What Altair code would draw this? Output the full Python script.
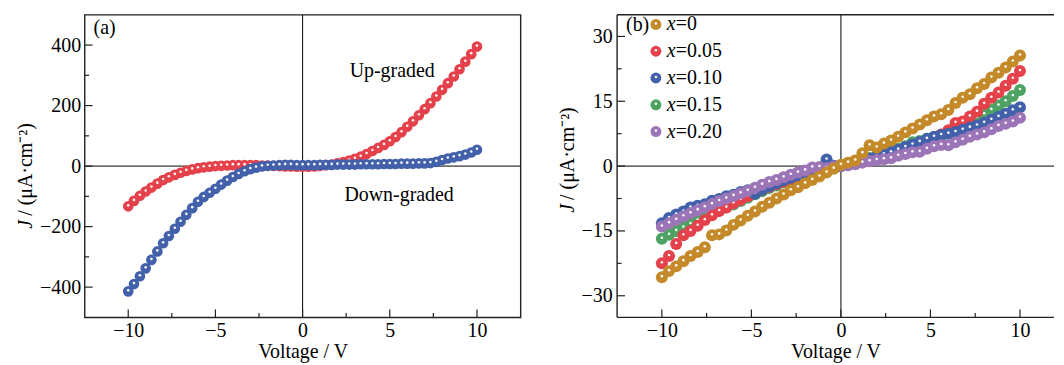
import altair as alt
import pandas as pd

FONT = "Liberation Serif"
AXC = "#222222"

# ---------------- Panel (a) data ----------------
V_A = [-10.0, -9.67, -9.33, -9.0, -8.67, -8.33, -8.0, -7.67, -7.33, -7.0,
       -6.67, -6.33, -6.0, -5.67, -5.33, -5.0, -4.67, -4.33, -4.0, -3.67,
       -3.33, -3.0, -2.67, -2.33, -2.0, -1.67, -1.33, -1.0, -0.67, -0.33,
       0.0, 0.33, 0.67, 1.0, 1.33, 1.67, 2.0, 2.33, 2.67, 3.0,
       3.33, 3.67, 4.0, 4.33, 4.67, 5.0, 5.33, 5.67, 6.0, 6.33,
       6.67, 7.0, 7.33, 7.67, 8.0, 8.33, 8.67, 9.0, 9.33, 9.67, 10.0]
J_UP = [-133, -115, -98, -84, -71, -58, -46, -37, -29, -22,
        -16, -11, -7, -4, -2, 0, 1, 2, 3, 3,
        3, 3, 3, 2, 2, 1, 0, -1, -1, -2,
        -2, -2, -1, 1, 3, 5, 9, 13, 18, 24,
        31, 40, 50, 60, 70, 82, 96, 112, 130, 148,
        168, 188, 208, 230, 252, 274, 296, 320, 345, 370, 395]
J_DOWN = [-414, -390, -364, -338, -310, -282, -255, -231, -207, -184,
          -161, -139, -118, -102, -88, -75, -61, -48, -36, -26,
          -17, -10, -5, -1, 1, 2, 3, 4, 4, 3,
          3, 3, 3, 4, 4, 4, 5, 5, 5, 5,
          6, 6, 6, 6, 7, 7, 7, 8, 8, 8,
          9, 9, 10, 14, 20, 25, 29, 33, 38, 45, 54]
SERIES_A = ["Up-graded", "Down-graded"]
COLORS_A = {"Up-graded": "#e4414b", "Down-graded": "#4361aa"}
ANNOT_A = ["(a)", "Up-graded", "Down-graded"]

XA_MAJOR = [-10, -5, 0, 5, 10]
XA_MINOR = [-7.5, -2.5, 2.5, 7.5]
YA_MAJOR = [-400, -200, 0, 200, 400]
YA_MINOR = [-300, -100, 100, 300]

# ---------------- Panel (b) data ----------------
V_B = [-10.0, -9.6, -9.2, -8.8, -8.4, -8.0, -7.6, -7.2, -6.8, -6.4,
       -6.0, -5.6, -5.2, -4.8, -4.4, -4.0, -3.6, -3.2, -2.8, -2.4,
       -2.0, -1.6, -1.2, -0.8, -0.4, 0.0, 0.4, 0.8, 1.2, 1.6,
       2.0, 2.4, 2.8, 3.2, 3.6, 4.0, 4.4, 4.8, 5.2, 5.6,
       6.0, 6.4, 6.8, 7.2, 7.6, 8.0, 8.4, 8.8, 9.2, 9.6, 10.0]
J_X000 = [-25.7, -24.3, -23.2, -22.0, -20.8, -19.9, -18.8, -16.0, -15.8, -14.9,
          -13.6, -12.6, -11.5, -10.5, -9.4, -8.5, -7.5, -6.6, -5.6, -4.9,
          -4.0, -3.2, -2.4, -1.5, -0.6, 0.3, 0.8, 1.3, 3.0, 4.8,
          4.3, 5.2, 5.9, 6.8, 7.8, 8.7, 9.6, 10.6, 11.5, 12.0,
          13.0, 14.6, 15.8, 16.6, 18.0, 19.0, 20.5, 21.6, 22.8, 24.2, 25.6]
J_X005 = [-22.5, -20.8, -18.0, -16.0, -15.0, -13.8, -12.5, -11.4, -10.4, -9.6,
          -8.6, -7.8, -7.0, -6.2, -5.5, -4.8, -4.2, -3.6, -3.0, -2.4,
          -1.9, -1.4, -1.0, -0.6, -0.3, 0.0, 0.3, 0.7, 1.1, 1.5,
          2.0, 2.5, 3.0, 3.6, 4.1, 4.7, 5.3, 6.0, 6.6, 7.3,
          8.3, 10.0, 10.3, 11.5, 12.6, 14.4, 15.8, 17.0, 18.6, 20.2, 22.0]
J_X010 = [-13.2, -12.0, -11.2, -10.5, -9.6, -9.2, -8.8, -8.0, -7.6, -7.0,
          -6.6, -6.0, -5.6, -6.4, -5.4, -4.6, -4.0, -3.3, -2.7, -2.1,
          -1.6, -1.1, -0.6, 1.5, 0.1, 0.0, 0.3, 0.7, 1.2, 1.7,
          2.2, 2.7, 3.2, 3.8, 4.4, 5.0, 5.6, 6.3, 6.8, 7.2,
          7.5, 7.9, 8.4, 8.9, 9.4, 10.0, 10.7, 11.4, 12.1, 12.9, 13.6]
J_X015 = [-16.8, -15.9, -15.0, -14.2, -13.4, -12.6, -11.8, -11.0, -10.3, -9.6,
          -8.9, -8.1, -7.3, -6.5, -5.8, -5.1, -4.5, -3.8, -3.1, -2.5,
          -1.9, -1.4, -0.9, -0.5, -0.2, 0.0, 0.4, 0.9, 1.4, 1.9,
          2.4, 2.9, 3.4, 4.0, 4.6, 5.5, 5.8, 6.3, 6.6, 7.0,
          8.0, 8.8, 9.6, 10.4, 11.2, 12.0, 13.0, 14.0, 15.0, 16.2, 17.6]
J_X020 = [-14.0, -13.2, -12.4, -11.6, -10.9, -10.2, -9.5, -8.8, -8.1, -7.5,
          -6.9, -6.3, -5.7, -5.0, -4.3, -3.7, -3.2, -2.6, -2.0, -1.5,
          -1.0, -0.3, -0.2, -0.5, -0.1, 0.0, 0.2, 0.4, 0.8, 1.1,
          1.4, 1.6, 1.8, 2.4, 2.8, 3.2, 3.3, 4.0, 4.6, 4.9,
          4.8, 5.5, 6.1, 6.8, 7.3, 7.8, 8.5, 9.3, 9.8, 10.3, 11.2]
SERIES_B = ["x=0", "x=0.05", "x=0.10", "x=0.15", "x=0.20"]
COLORS_B = ["#c48a2a", "#e4414b", "#4361aa", "#4ea363", "#9b75b7"]
DRAW_ORDER_B = ["x=0.15", "x=0.05", "x=0.10", "x=0.20", "x=0"]
ANNOT_B = ["(b)"]

XB_MAJOR = [-10, -5, 0, 5, 10]
XB_MINOR = [-7.5, -2.5, 2.5, 7.5]
YB_MAJOR = [-30, -15, 0, 15, 30]
YB_MINOR = [-22.5, -7.5, 7.5, 22.5]

YTITLE_J = "J"
YTITLE_REST = "/ (μA·cm⁻²)"
XTITLE = "Voltage / V"

df_a = pd.concat([
    pd.DataFrame({"V": V_A, "J": J_UP, "s": "Up-graded"}),
    pd.DataFrame({"V": V_A, "J": J_DOWN, "s": "Down-graded"}),
], ignore_index=True)
B_VALUES = dict(zip(SERIES_B, [J_X000, J_X005, J_X010, J_X015, J_X020]))
df_b = pd.concat([pd.DataFrame({"V": V_B, "J": B_VALUES[s], "s": s}) for s in SERIES_B],
                 ignore_index=True)

H = 304


def panel(df, series_order, colors, xs, ys, xmaj, xmin, ymaj, ymin,
          size, ytitle_x, ytitle_y, annots, ylabpad):
    layers = []
    xax = alt.Axis(values=xmaj, ticks=False, domain=False, grid=False,
                   labelFont=FONT, labelFontSize=20, labelColor="black",
                   labelPadding=3, labelFlush=False, title=XTITLE,
                   titleFont=FONT, titleFontSize=20, titleFontWeight="normal",
                   titleColor="black", titlePadding=1)
    yax = alt.Axis(values=ymaj, ticks=False, domain=False, grid=False,
                   labelFont=FONT, labelFontSize=20, labelColor="black",
                   labelPadding=ylabpad, labelFlush=False, title=None)
    X = lambda: alt.X("V:Q", scale=xs, axis=xax)
    Y = lambda: alt.Y("J:Q", scale=ys, axis=yax)
    # zero lines
    layers.append(alt.Chart(pd.DataFrame({"V": [0]})).mark_rule(color="black", strokeWidth=1)
                  .encode(x=X()))
    layers.append(alt.Chart(pd.DataFrame({"J": [0]})).mark_rule(color="black", strokeWidth=1)
                  .encode(y=Y()))
    # ticks (inward)
    for vals, ln in ((xmaj, 8), (xmin, 4.5)):
        layers.append(alt.Chart(pd.DataFrame({"V": vals})).mark_rule(color=AXC, strokeWidth=1.2)
                      .encode(x=X(), y=alt.value(H), y2=alt.value(H - ln)))
    for vals, ln in ((ymaj, 8), (ymin, 4.5)):
        layers.append(alt.Chart(pd.DataFrame({"J": vals})).mark_rule(color=AXC, strokeWidth=1.2)
                      .encode(y=Y(), x=alt.value(0), x2=alt.value(ln)))
    # data points
    for s in series_order:
        base = alt.Chart(df).transform_filter(alt.datum.s == s)
        layers.append(base.mark_circle(size=size, opacity=1, color=colors[s])
                      .encode(x=X(), y=Y()))
        layers.append(base.mark_circle(size=7, opacity=0.95, color="white", yOffset=-1)
                      .encode(x=X(), y=Y()))
    # y title
    layers.append(alt.Chart(pd.DataFrame({"t": [YTITLE_J]})).mark_text(
        font=FONT, fontSize=20, fontStyle="italic", angle=270, align="left",
        baseline="middle", color="black").encode(
        x=alt.value(ytitle_x), y=alt.value(ytitle_y), text="t:N"))
    layers.append(alt.Chart(pd.DataFrame({"t": [YTITLE_REST]})).mark_text(
        font=FONT, fontSize=20, angle=270, align="left",
        baseline="middle", color="black").encode(
        x=alt.value(ytitle_x), y=alt.value(ytitle_y - 13), text="t:N"))
    for txt, px, py, al in annots:
        layers.append(alt.Chart(pd.DataFrame({"t": [txt]})).mark_text(
            font=FONT, fontSize=20, align=al, baseline="middle", color="black").encode(
            x=alt.value(px), y=alt.value(py), text="t:N"))
    return layers


xsA = alt.Scale(domain=[-12.5, 12.5], nice=False, zero=False)
ysA = alt.Scale(domain=[-500, 500], nice=False, zero=False)
WA = 438
layers_a = panel(df_a, SERIES_A, COLORS_A, xsA, ysA, XA_MAJOR, XA_MINOR,
                 YA_MAJOR, YA_MINOR, 115, -59, 215,
                 [(ANNOT_A[0], 9, 13, "left"), (ANNOT_A[1], 309, 56, "center"),
                  (ANNOT_A[2], 316, 181, "center")], 4)
chart_a = alt.layer(*layers_a).properties(
    width=WA, height=H, view=alt.ViewBackground(stroke=AXC, strokeWidth=1.4))

xsB = alt.Scale(domain=[-12.5, 11.9], nice=False, zero=False)
ysB = alt.Scale(domain=[-35, 35], nice=False, zero=False)
WB = 439
colors_b = dict(zip(SERIES_B, COLORS_B))
layers_b = panel(df_b, DRAW_ORDER_B, colors_b, xsB, ysB, XB_MAJOR, XB_MINOR,
                 YB_MAJOR, YB_MINOR, 145, -49, 199,
                 [(ANNOT_B[0], 9, 10, "left")], 5)
# frame for (b): left, top, bottom (right edge runs off the page)
frame_df = pd.DataFrame({"V": [0]})
layers_b.append(alt.Chart(frame_df).mark_rule(color=AXC, strokeWidth=1.4)
                .encode(x=alt.value(0), x2=alt.value(WB), y=alt.value(0)))
layers_b.append(alt.Chart(frame_df).mark_rule(color=AXC, strokeWidth=1.4)
                .encode(x=alt.value(0), x2=alt.value(WB), y=alt.value(H)))
layers_b.append(alt.Chart(frame_df).mark_rule(color=AXC, strokeWidth=1.4)
                .encode(x=alt.value(0), y=alt.value(0), y2=alt.value(H)))
# manual legend
leg = (alt.Chart(pd.DataFrame({"label": SERIES_B}))
       .transform_window(rn="row_number()")
       .transform_calculate(ly="9.7 + (datum.rn - 1) * 26.9",
                            rest="substring(datum.label, 1)",
                            xi="substring(datum.label, 0, 1)"))
layers_b.append(leg.mark_circle(size=120, opacity=1).encode(
    x=alt.value(39), y=alt.Y("ly:Q", scale=None, axis=None),
    color=alt.Color("label:N", scale=alt.Scale(domain=SERIES_B, range=COLORS_B), legend=None)))
layers_b.append(leg.mark_circle(size=7, opacity=0.95, color="white", yOffset=-1).encode(
    x=alt.value(39), y=alt.Y("ly:Q", scale=None, axis=None)))
layers_b.append(leg.mark_text(font=FONT, fontSize=20, fontStyle="italic", align="left",
                              baseline="middle", color="black").encode(
    x=alt.value(50), y=alt.Y("ly:Q", scale=None, axis=None), text="xi:N"))
layers_b.append(leg.mark_text(font=FONT, fontSize=20, align="left",
                              baseline="middle", color="black").encode(
    x=alt.value(59), y=alt.Y("ly:Q", scale=None, axis=None), text="rest:N"))
chart_b = alt.layer(*layers_b).properties(
    width=WB, height=H, view=alt.ViewBackground(stroke="transparent"))

chart = (alt.hconcat(chart_a, chart_b, spacing=35)
         .properties(padding={"left": 7, "top": 4, "right": 0, "bottom": 0})
         .configure(background="white"))

chart.save("out.html", embed_options={"renderer": "svg", "actions": False})
